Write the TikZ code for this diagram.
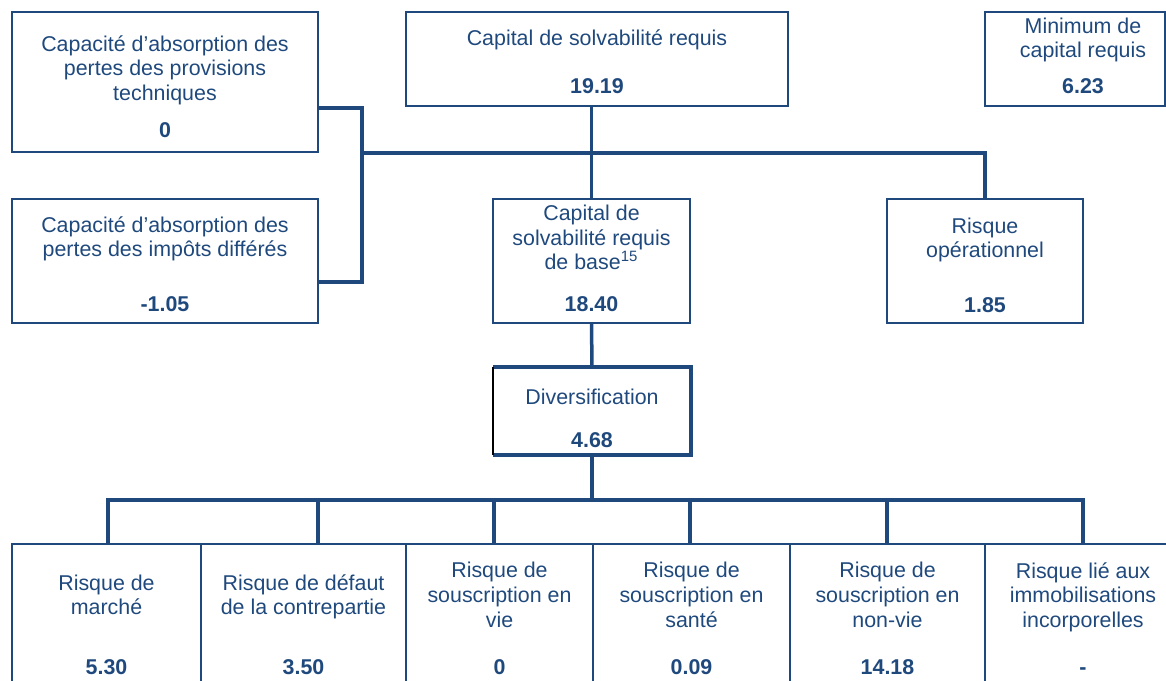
\documentclass[tikz,border=0pt]{standalone}
\usepackage{fontspec}
\setmainfont{Liberation Sans}
\definecolor{scrblue}{RGB}{31,73,125}
\tikzset{
	block/.style={draw=scrblue, line width=1pt, rectangle, inner sep=0pt},
	caption/.style={align=center, inner sep=0pt, text=scrblue, font=\fontsize{10.7}{12.3}\selectfont, execute at begin node=\strut, execute at end node=\strut},
	amount/.style={anchor=base, inner sep=0pt, text=scrblue, font=\fontsize{10.7}{12.3}\selectfont\bfseries},
}

\begin{document}
\begin{tikzpicture}[x=0.5pt, y=-0.5pt]
	\path[use as bounding box, clip] (0,0) rectangle (1166,680);
	
	% upper part
	\node (ac1) [block, minimum width=153pt, minimum height=70pt] at (165,82) {};
	\node (ac1-l) [caption] at (165,71.5) {Capacité d’absorption des\\pertes des provisions\\techniques};
	\node (ac1-v) [amount] at (165,137) {0};
	
	\node (ac2) [block, minimum width=153pt, minimum height=62pt] at (165,261) {};
	\node (ac2-l) [caption] at (165,240.5) {Capacité d’absorption des\\pertes des impôts différés};
	\node (ac2-v) [amount] at (165,311) {-1.05};
	
	\node (csr) [block, minimum width=191pt, minimum height=47pt] at (597,59) {};
	\node (csr-l) [caption] at (597,41) {Capital de solvabilité requis};
	\node (csr-v) [amount] at (597,93) {19.19};
	
	\node (mcr) [block, minimum width=90pt, minimum height=47pt] at (1075,59) {};
	\node (mcr-l) [caption] at (1083,41.5) {Minimum de\\capital requis};
	\node (mcr-v) [amount] at (1083,93) {6.23};
	
	\node (bscr) [block, minimum width=98.5pt, minimum height=62pt] at (591.5,261) {};
	\node (bscr-l) [caption] at (591.5,241) {Capital de\\solvabilité requis\\de base\textsuperscript{15}};
	\node (bscr-v) [amount] at (591.5,311) {18.40};
	
	\node (rop) [block, minimum width=98pt, minimum height=62pt] at (985,261) {};
	\node (rop-l) [caption] at (985,241.5) {Risque\\opérationnel};
	\node (rop-v) [amount] at (985,312) {1.85};
	
	\node (div) [block, draw=none, minimum width=98pt, minimum height=43pt] at (592,411) {};
	\draw [scrblue, line width=1.6pt] (div.north west) -- (div.north east) -- (div.south east) -- (div.south west);
	\draw [black, line width=1pt] (div.north west) -- (div.south west);
	\node (div-l) [caption] at (592,400) {Diversification};
	\node (div-v) [amount] at (592,447) {4.68};
	
	% lower row
	\foreach \b/\x/\w/\txt/\val in {
		b1/106.5/94.5/{Risque de\\marché}/5.30,
		b2/303.5/102.5/{Risque de défaut\\de la contrepartie}/3.50,
		b3/499.5/93.5/{Risque de\\souscription en\\vie}/0,
		b4/691.5/98.5/{Risque de\\souscription en\\santé}/0.09,
		b5/887.5/97.5/{Risque de\\souscription en\\non-vie}/14.18,
		b6/1083/98/{Risque lié aux\\immobilisations\\incorporelles}/-}{
		\node (\b) [block, minimum width=\w pt, minimum height=88pt] at (\x,632) {};
		\node (\b-l) [caption] at (\x,598.5) {\txt};
		\node (\b-v) [amount] at (\x,674) {\val};
	}
	
	\coordinate (kl) at (362,108);
	\coordinate (kl2) at (362,282);
	\coordinate (hub) at (362,153);
	\coordinate (bus-l) at (108,500);
	\coordinate (bus-r) at (1083,500);
	
	\begin{scope}[scrblue, line width=1.75pt]
		\draw (ac1.east |- kl) -- (kl) -- (kl2) -- (ac2.east |- kl2);
		\draw (hub) -| (rop.north);
		\draw (bscr.north |- csr.south) -- (bscr.north);
		\draw (bscr.south) -- (div.north);
		\draw (div.south) -- (div.south |- bus-l);
		\draw (bus-l |- b1.north) -- (bus-l) -- (bus-r) -- (bus-r |- b6.north);
		\foreach \b/\x in {b2/318, b3/494, b4/690, b5/887}
			\draw (\x,500) -- (\b.north -| \x,0);
	\end{scope}
	
\end{tikzpicture}
\end{document}
